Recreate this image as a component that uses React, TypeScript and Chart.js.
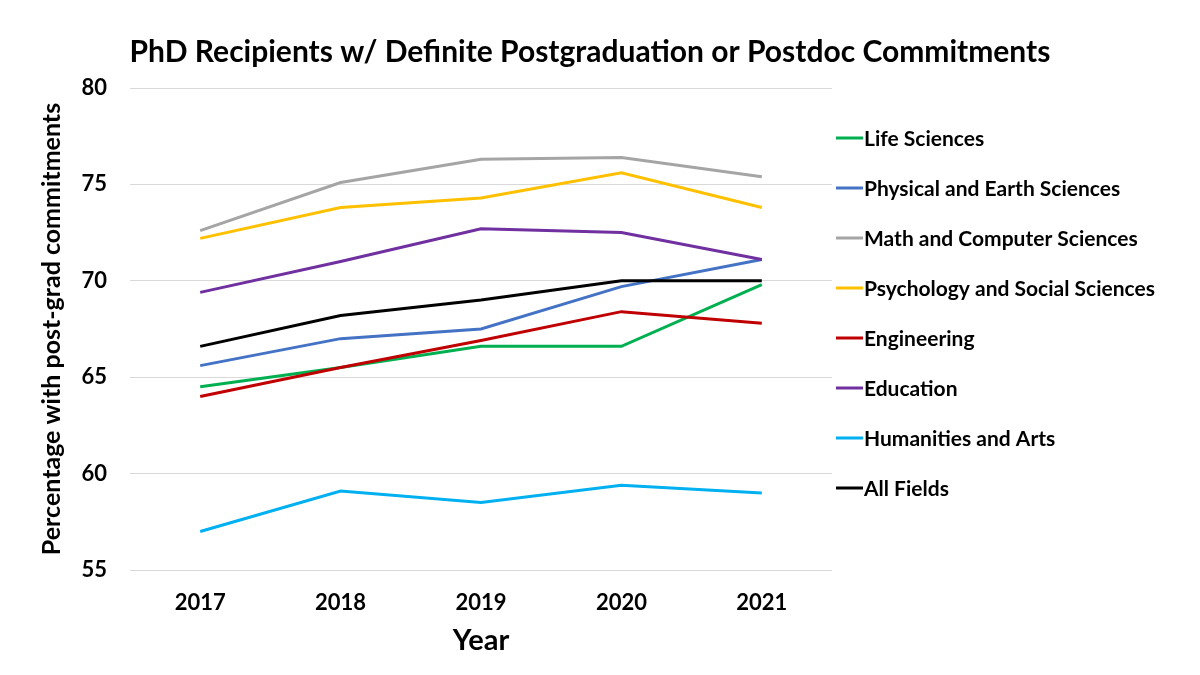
import { useEffect, useRef } from "react";
import { Chart, registerables } from "chart.js";

Chart.register(...registerables);

// Graduation years on the x axis
const years = ["2017", "2018", "2019", "2020", "2021"];

// Share of PhD recipients with definite commitments, by field (%)
const lifeSciences = [64.5, 65.5, 66.6, 66.6, 69.8];
const physicalEarth = [65.6, 67.0, 67.5, 69.7, 71.1];
const mathComputer = [72.6, 75.1, 76.3, 76.4, 75.4];
const psychSocial = [72.2, 73.8, 74.3, 75.6, 73.8];
const engineering = [64.0, 65.5, 66.9, 68.4, 67.8];
const education = [69.4, 71.0, 72.7, 72.5, 71.1];
const humanitiesArts = [57.0, 59.1, 58.5, 59.4, 59.0];
const allFields = [66.6, 68.2, 69.0, 70.0, 70.0];

const seriesNames = [
  "Life Sciences",
  "Physical and Earth Sciences",
  "Math and Computer Sciences",
  "Psychology and Social Sciences",
  "Engineering",
  "Education",
  "Humanities and Arts",
  "All Fields",
];
const seriesValues = [
  lifeSciences,
  physicalEarth,
  mathComputer,
  psychSocial,
  engineering,
  education,
  humanitiesArts,
  allFields,
];
const seriesColors = [
  "#00B050",
  "#4472C4",
  "#A5A5A5",
  "#FFC000",
  "#C00000",
  "#7030A0",
  "#00B0F0",
  "#000000",
];

const yTicks = [55, 60, 65, 70, 75, 80];

const chartTitle = "PhD Recipients w/ Definite Postgraduation or Postdoc Commitments";
const FONT = "Lato, 'Open Sans', sans-serif";

// Draws the heading and the line-sample legend in the space kept free by the layout padding
const headingAndLegend = {
  id: "headingAndLegend",
  afterDraw(chart: any) {
    const { ctx, chartArea } = chart;
    ctx.save();
    ctx.fillStyle = "#000";
    ctx.textBaseline = "middle";
    ctx.textAlign = "center";
    ctx.font = `bold 30px ${FONT}`;
    ctx.fillText(chartTitle, 590, 52);

    ctx.textAlign = "left";
    ctx.font = `bold 21px ${FONT}`;
    chart.data.datasets.forEach((ds: any, i: number) => {
      const y = chartArea.top + 50 + i * 50;
      const x = chartArea.right + 4;
      ctx.strokeStyle = ds.borderColor;
      ctx.lineWidth = 3;
      ctx.beginPath();
      ctx.moveTo(x, y);
      ctx.lineTo(x + 27, y);
      ctx.stroke();
      ctx.fillStyle = "#000";
      ctx.fillText(ds.label, x + 28, y + 1);
    });
    ctx.restore();
  },
};

export default function App() {
  const canvasRef = useRef<HTMLCanvasElement | null>(null);

  useEffect(() => {
    if (!canvasRef.current) return;
    const n = seriesNames.length;
    const chart = new Chart(canvasRef.current, {
      type: "line",
      data: {
        labels: years,
        datasets: seriesNames.map((name, i) => ({
          label: name,
          data: seriesValues[i],
          borderColor: seriesColors[i],
          backgroundColor: seriesColors[i],
          borderWidth: 3,
          pointRadius: 0,
          pointHoverRadius: 0,
          tension: 0,
          fill: false,
          order: n - 1 - i,
        })),
      },
      plugins: [headingAndLegend],
      options: {
        responsive: false,
        animation: false,
        devicePixelRatio: 1,
        layout: { padding: { top: 88, right: 368, bottom: 0, left: 0 } },
        plugins: {
          legend: { display: false },
          title: { display: false },
          tooltip: { enabled: false },
        },
        scales: {
          x: {
            offset: true,
            grid: { display: false, drawTicks: false },
            border: { display: false },
            ticks: {
              color: "#000",
              padding: 20,
              font: { family: FONT, size: 22, weight: "bold" },
            },
            title: {
              display: true,
              text: "Year",
              color: "#000",
              font: { family: FONT, size: 29, weight: "bold" },
              padding: { top: 8, bottom: 17 },
            },
            afterFit: (scale: any) => {
              scale.height = 105;
            },
          },
          y: {
            min: 55,
            max: 80,
            afterBuildTicks: (scale: any) => {
              scale.ticks = yTicks.map((v) => ({ value: v }));
            },
            grid: { color: "#D9D9D9", lineWidth: 1, drawTicks: false },
            border: { display: false },
            ticks: {
              color: "#000",
              padding: 23,
              font: { family: FONT, size: 22, weight: "bold" },
            },
            title: {
              display: true,
              text: "Percentage with post-grad commitments",
              color: "#000",
              font: { family: FONT, size: 25, weight: "bold" },
              padding: { top: 37, bottom: 0 },
            },
            afterFit: (scale: any) => {
              scale.width = 130;
            },
          },
        },
      },
    });
    return () => chart.destroy();
  }, []);

  return (
    <div style={{ position: "fixed", left: 0, top: 0, width: 1200, height: 675, background: "#fff" }}>
      <canvas ref={canvasRef} width={1200} height={675} />
    </div>
  );
}
